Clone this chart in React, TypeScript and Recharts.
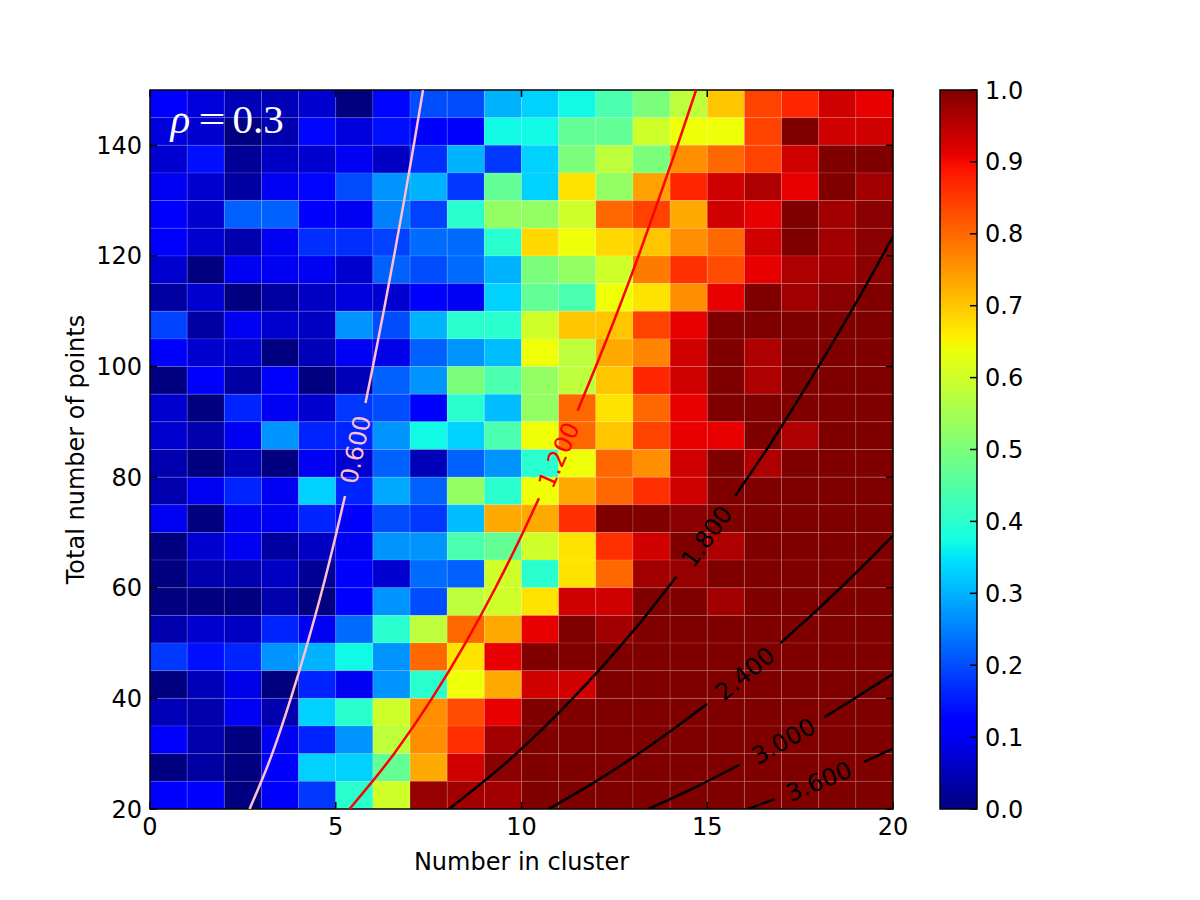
import { ComposedChart, BarChart, Bar, XAxis, YAxis, Line, ReferenceArea, ReferenceDot } from "recharts"

// column left edges (number in cluster)
const clusterSizes = [0, 1, 2, 3, 4, 5, 6, 7, 8, 9, 10, 11, 12, 13, 14, 15, 16, 17, 18, 19]

// row bottom edges (total number of points), top row first
const totals = [145, 140, 135, 130, 125, 120, 115, 110, 105, 100, 95, 90, 85, 80, 75, 70, 65, 60, 55, 50, 45, 40, 35, 30, 25, 20]

// detected fraction per cell, one row per entry of `totals`
const fractions = [
  [0.12, 0.08, 0.05, 0.05, 0.07, 0.0, 0.13, 0.2, 0.2, 0.3, 0.33, 0.37, 0.44, 0.5, 0.58, 0.7, 0.84, 0.87, 0.93, 0.91],
  [0.08, 0.07, 0.0, 0.04, 0.13, 0.08, 0.14, 0.11, 0.11, 0.37, 0.37, 0.47, 0.47, 0.6, 0.64, 0.64, 0.84, 1.0, 0.93, 0.93],
  [0.07, 0.14, 0.02, 0.06, 0.07, 0.1, 0.06, 0.17, 0.3, 0.18, 0.33, 0.5, 0.58, 0.5, 0.76, 0.8, 0.84, 0.93, 1.0, 1.0],
  [0.1, 0.07, 0.03, 0.1, 0.13, 0.2, 0.27, 0.3, 0.18, 0.47, 0.33, 0.67, 0.53, 0.74, 0.87, 0.93, 0.96, 0.91, 1.0, 0.97],
  [0.12, 0.07, 0.22, 0.22, 0.12, 0.1, 0.25, 0.19, 0.4, 0.53, 0.53, 0.6, 0.8, 0.84, 0.73, 0.93, 0.91, 1.0, 0.97, 0.99],
  [0.12, 0.07, 0.04, 0.1, 0.17, 0.17, 0.19, 0.23, 0.23, 0.4, 0.68, 0.64, 0.68, 0.7, 0.76, 0.8, 0.93, 1.0, 0.97, 0.99],
  [0.07, 0.0, 0.1, 0.1, 0.1, 0.07, 0.22, 0.2, 0.23, 0.3, 0.5, 0.53, 0.6, 0.78, 0.86, 0.83, 0.91, 0.96, 0.97, 0.99],
  [0.03, 0.07, 0.0, 0.03, 0.06, 0.08, 0.07, 0.11, 0.1, 0.33, 0.47, 0.44, 0.64, 0.67, 0.76, 0.91, 1.0, 0.97, 0.99, 1.0],
  [0.19, 0.03, 0.1, 0.07, 0.06, 0.27, 0.2, 0.3, 0.4, 0.4, 0.6, 0.7, 0.7, 0.84, 0.91, 1.0, 1.0, 1.0, 1.0, 1.0],
  [0.12, 0.07, 0.07, 0.0, 0.05, 0.1, 0.09, 0.22, 0.27, 0.31, 0.64, 0.58, 0.73, 0.77, 0.93, 1.0, 0.96, 1.0, 1.0, 1.0],
  [0.0, 0.11, 0.03, 0.12, 0.0, 0.05, 0.22, 0.27, 0.5, 0.44, 0.53, 0.58, 0.7, 0.87, 0.93, 1.0, 0.96, 1.0, 1.0, 1.0],
  [0.07, 0.0, 0.16, 0.1, 0.07, 0.18, 0.2, 0.11, 0.4, 0.31, 0.53, 0.8, 0.67, 0.8, 0.91, 1.0, 1.0, 1.0, 1.0, 1.0],
  [0.07, 0.04, 0.1, 0.27, 0.16, 0.16, 0.27, 0.37, 0.33, 0.44, 0.64, 0.8, 0.7, 0.84, 0.91, 0.91, 1.0, 0.96, 1.0, 1.0],
  [0.04, 0.0, 0.05, 0.0, 0.1, 0.07, 0.22, 0.05, 0.22, 0.27, 0.4, 0.64, 0.8, 0.76, 0.93, 1.0, 0.96, 1.0, 1.0, 1.0],
  [0.04, 0.1, 0.16, 0.1, 0.33, 0.16, 0.29, 0.22, 0.53, 0.4, 0.64, 0.73, 0.8, 0.86, 0.93, 1.0, 1.0, 1.0, 1.0, 1.0],
  [0.1, 0.0, 0.1, 0.1, 0.16, 0.11, 0.2, 0.18, 0.31, 0.73, 0.73, 0.86, 1.0, 1.0, 0.99, 1.0, 1.0, 1.0, 1.0, 1.0],
  [0.0, 0.07, 0.1, 0.03, 0.06, 0.1, 0.27, 0.27, 0.44, 0.47, 0.6, 0.67, 0.86, 0.93, 1.0, 0.96, 1.0, 1.0, 1.0, 1.0],
  [0.0, 0.04, 0.04, 0.06, 0.02, 0.11, 0.07, 0.23, 0.22, 0.6, 0.4, 0.67, 0.8, 0.97, 0.98, 1.0, 1.0, 1.0, 1.0, 1.0],
  [0.0, 0.0, 0.0, 0.04, 0.0, 0.11, 0.27, 0.2, 0.58, 0.6, 0.67, 0.93, 0.93, 1.0, 1.0, 0.97, 1.0, 1.0, 1.0, 1.0],
  [0.04, 0.07, 0.06, 0.16, 0.1, 0.23, 0.4, 0.58, 0.8, 0.73, 0.91, 1.0, 0.97, 1.0, 1.0, 1.0, 1.0, 1.0, 1.0, 1.0],
  [0.18, 0.14, 0.16, 0.27, 0.3, 0.37, 0.27, 0.8, 0.67, 0.91, 1.0, 1.0, 1.0, 1.0, 1.0, 1.0, 1.0, 1.0, 1.0, 1.0],
  [0.0, 0.05, 0.09, 0.0, 0.16, 0.1, 0.27, 0.4, 0.64, 0.73, 0.93, 0.93, 1.0, 1.0, 1.0, 1.0, 1.0, 1.0, 1.0, 1.0],
  [0.05, 0.04, 0.1, 0.04, 0.33, 0.4, 0.6, 0.76, 0.83, 0.91, 1.0, 1.0, 1.0, 1.0, 1.0, 1.0, 1.0, 1.0, 1.0, 1.0],
  [0.11, 0.04, 0.0, 0.1, 0.16, 0.27, 0.58, 0.76, 0.86, 0.97, 1.0, 1.0, 1.0, 1.0, 1.0, 1.0, 1.0, 1.0, 1.0, 1.0],
  [0.0, 0.03, 0.0, 0.12, 0.33, 0.33, 0.47, 0.73, 0.93, 0.99, 1.0, 1.0, 1.0, 1.0, 1.0, 1.0, 1.0, 1.0, 1.0, 1.0],
  [0.12, 0.12, 0.0, 0.11, 0.18, 0.4, 0.6, 0.98, 0.97, 0.97, 1.0, 1.0, 1.0, 1.0, 1.0, 1.0, 1.0, 1.0, 1.0, 1.0],
]

const xTicks = [0, 5, 10, 15, 20]
const yTicks = [20, 40, 60, 80, 100, 120, 140]
const barTicks = [0, 0.1, 0.2, 0.3, 0.4, 0.5, 0.6, 0.7, 0.8, 0.9, 1.0]

// full extent of the colour scale
const colorRange = [{ name: "fraction", lo: 0, hi: 1 }]

// contour lines; the null entry leaves room for the inline label
const contour060 = [
  { x: 2.68, n: 20 }, { x: 3.29, n: 30 }, { x: 3.79, n: 40 }, { x: 4.24, n: 50 }, { x: 4.65, n: 60 },
  { x: 5.02, n: 70 }, { x: 5.25, n: 76.6 }, { x: 5.5, n: null }, { x: 5.8, n: 93.4 }, { x: 6.0, n: 100 },
  { x: 6.29, n: 110 }, { x: 6.57, n: 120 }, { x: 6.84, n: 130 }, { x: 7.1, n: 140 }, { x: 7.35, n: 150 },
]
const contour120 = [
  { x: 5.37, n: 20 }, { x: 6.57, n: 30 }, { x: 7.59, n: 40 }, { x: 8.49, n: 50 }, { x: 9.3, n: 60 },
  { x: 10.04, n: 70 }, { x: 10.47, n: 76.2 }, { x: 11, n: null }, { x: 11.51, n: 92 }, { x: 12.0, n: 100 },
  { x: 12.59, n: 110 }, { x: 13.15, n: 120 }, { x: 13.68, n: 130 }, { x: 14.2, n: 140 }, { x: 14.7, n: 150 },
]
const contour180 = [
  { x: 8.05, n: 20 }, { x: 9.86, n: 30 }, { x: 11.38, n: 40 }, { x: 12.73, n: 50 }, { x: 13.35, n: 55 },
  { x: 14.17, n: 62 }, { x: 15, n: null }, { x: 15.75, n: 76.6 }, { x: 16.6, n: 85 }, { x: 17.54, n: 95 },
  { x: 18.44, n: 105 }, { x: 19.3, n: 115 }, { x: 20.0, n: 123.5 },
]
const contour240 = [
  { x: 10.73, n: 20 }, { x: 12.0, n: 25 }, { x: 13.15, n: 30 }, { x: 14.2, n: 35 }, { x: 14.99, n: 39 },
  { x: 16, n: null }, { x: 16.97, n: 50 }, { x: 17.8, n: 55 }, { x: 18.59, n: 60 }, { x: 19.35, n: 65 },
  { x: 20.0, n: 69.4 },
]
const contour300 = [
  { x: 13.42, n: 20 }, { x: 14.7, n: 24 }, { x: 15.87, n: 28 }, { x: 17, n: null },
  { x: 18.15, n: 36.6 }, { x: 18.97, n: 40 }, { x: 20.0, n: 44.4 },
]
const contour360 = [
  { x: 16.1, n: 20 }, { x: 16.81, n: 21.8 }, { x: 18, n: null }, { x: 19.22, n: 28.5 }, { x: 20.0, n: 30.9 },
]

const contourLevels = [0.6, 1.2, 1.8, 2.4, 3.0, 3.6]
const contourPoints = [contour060, contour120, contour180, contour240, contour300, contour360]
// where each level's label sits (cluster size, total points)
const labelX = [5.53, 11.0, 14.98, 16.01, 17.05, 18.0]
const labelN = [85, 84, 69.3, 44.5, 32.3, 25]

const contourColors = ["#ffc0cb", "#ff0000", "#000000", "#000000", "#000000", "#000000"]
const labelAngles = [-77.7, -66.3, -54, -39.6, -29.4, -22.5]

// matplotlib "jet" segment data
const jetR: [number, number][] = [[0, 0], [0.35, 0], [0.66, 1], [0.89, 1], [1, 0.5]]
const jetG: [number, number][] = [[0, 0], [0.125, 0], [0.375, 1], [0.64, 1], [0.91, 0], [1, 0]]
const jetB: [number, number][] = [[0, 0.5], [0.11, 1], [0.34, 1], [0.65, 0], [1, 0]]
const jetBreaks = [0, 0.11, 0.125, 0.34, 0.35, 0.375, 0.64, 0.65, 0.66, 0.89, 0.91, 1]

function channel(pts: [number, number][], v: number) {
  for (let i = 1; i < pts.length; i++) {
    const [x0, y0] = pts[i - 1]
    const [x1, y1] = pts[i]
    if (v <= x1) return y0 + ((v - x0) / (x1 - x0)) * (y1 - y0)
  }
  return pts[pts.length - 1][1]
}

function jet(v: number) {
  const c = Math.max(0, Math.min(1, v))
  const r = Math.round(255 * channel(jetR, c))
  const g = Math.round(255 * channel(jetG, c))
  const b = Math.round(255 * channel(jetB, c))
  return `rgb(${r},${g},${b})`
}

const FONT = "DejaVu Sans"
const tickStyle = { fontFamily: FONT, fontSize: 24, fill: "#000" }
const TICK_LEN = 7

// black box round the plot with inward tick marks on all four sides
function PlotFrame(props: any) {
  const { x, y, width, height } = props
  const px = (v: number) => x + (width * v) / 20
  const py = (v: number) => y + height - (height * (v - 20)) / 130
  return (
    <g>
      <rect x={x} y={y} width={width} height={height} fill="none" stroke="#000" strokeWidth={1.5} />
      {xTicks.map((t) => (
        <g key={`xt-${t}`} stroke="#000" strokeWidth={1.5}>
          <line x1={px(t)} x2={px(t)} y1={y + height} y2={y + height - TICK_LEN} />
          <line x1={px(t)} x2={px(t)} y1={y} y2={y + TICK_LEN} />
        </g>
      ))}
      {yTicks.map((t) => (
        <g key={`yt-${t}`} stroke="#000" strokeWidth={1.5}>
          <line x1={x} x2={x + TICK_LEN} y1={py(t)} y2={py(t)} />
          <line x1={x + width} x2={x + width - TICK_LEN} y1={py(t)} y2={py(t)} />
        </g>
      ))}
    </g>
  )
}

function RhoLabel(props: any) {
  const { viewBox } = props
  return (
    <text x={viewBox.x} y={viewBox.y} fill="#ffffff" fontFamily="Liberation Serif" fontSize={41}>
      <tspan fontStyle="italic">ρ</tspan>
      <tspan x={viewBox.x + 28} textLength={27} lengthAdjust="spacingAndGlyphs">=</tspan>
      <tspan x={viewBox.x + 62}>0.3</tspan>
    </text>
  )
}

function HeatMap() {
  return (
    <ComposedChart width={930} height={900} margin={{ top: 90, right: 37, bottom: 21, left: 80 }}>
      <XAxis
        dataKey="x"
        type="number"
        domain={[0, 20]}
        ticks={xTicks}
        interval={0}
        allowDataOverflow
        height={70}
        tickSize={0}
        tickMargin={9}
        axisLine={false}
        tickLine={false}
        tick={tickStyle}
      />
      <YAxis
        type="number"
        domain={[20, 150]}
        ticks={yTicks}
        interval={0}
        allowDataOverflow
        width={70}
        tickSize={0}
        tickMargin={8}
        axisLine={false}
        tickLine={false}
        tick={tickStyle}
      />

      {totals.map((n, r) =>
        clusterSizes.map((c, i) => (
          <ReferenceArea
            key={`cell-${r}-${i}`}
            x1={c}
            x2={c + 1}
            y1={n}
            y2={n + 5}
            fill={jet(fractions[r][i])}
            fillOpacity={1}
            stroke="#ffffff"
            strokeOpacity={0.12}
            strokeWidth={1}
          />
        ))
      )}

      {contourLevels.map((level, i) => (
        <Line
          key={`level-${level}`}
          data={contourPoints[i]}
          dataKey="n"
          type="monotone"
          stroke={contourColors[i]}
          strokeWidth={2.5}
          dot={false}
          activeDot={false}
          connectNulls={false}
          isAnimationActive={false}
        />
      ))}

      <ReferenceArea x1={0} x2={20} y1={20} y2={150} shape={PlotFrame} />

      {contourLevels.map((level, i) => (
        <ReferenceDot
          key={`label-${level}`}
          x={labelX[i]}
          y={labelN[i]}
          r={0}
          fill="none"
          stroke="none"
          label={{
            value: level.toFixed(3),
            position: "center",
            angle: labelAngles[i],
            fill: contourColors[i],
            fontSize: 24,
            fontFamily: FONT,
          }}
        />
      ))}

      <ReferenceDot x={0.55} y={142.2} r={0} fill="none" stroke="none" label={{ content: RhoLabel }} />

      <text x={521.5} y={870} textAnchor="middle" fontFamily={FONT} fontSize={24} fill="#000">
        Number in cluster
      </text>
      <text
        x={84}
        y={449.5}
        transform="rotate(-90, 84, 449.5)"
        textAnchor="middle"
        fontFamily={FONT}
        fontSize={24}
        fill="#000"
      >
        Total number of points
      </text>
    </ComposedChart>
  )
}

// gradient bar with inward ticks on its right edge
function ScaleBar(props: any) {
  const { x, y, width, height } = props
  return (
    <g>
      <rect x={x} y={y} width={width} height={height} fill="url(#jetScale)" stroke="#000" strokeWidth={1.5} />
      {barTicks.map((t) => (
        <line
          key={t}
          x1={x + width - TICK_LEN}
          x2={x + width}
          y1={y + height * (1 - t)}
          y2={y + height * (1 - t)}
          stroke="#000"
          strokeWidth={1.5}
        />
      ))}
    </g>
  )
}

function ColorBar() {
  return (
    <BarChart
      width={200}
      height={900}
      data={colorRange}
      barCategoryGap={0}
      margin={{ top: 90, right: 63, bottom: 91, left: 40 }}
    >
      <defs>
        <linearGradient id="jetScale" x1="0" y1="1" x2="0" y2="0">
          {jetBreaks.map((v) => (
            <stop key={v} offset={v} stopColor={jet(v)} />
          ))}
        </linearGradient>
      </defs>
      <XAxis dataKey="name" hide />
      <YAxis
        orientation="right"
        type="number"
        domain={[0, 1]}
        ticks={barTicks}
        interval={0}
        width={60}
        tickSize={0}
        tickMargin={8}
        axisLine={false}
        tickLine={false}
        tick={tickStyle}
        tickFormatter={(v: number) => v.toFixed(1)}
      />
      <Bar dataKey="hi" shape={ScaleBar} isAnimationActive={false} />
    </BarChart>
  )
}

export default function App() {
  return (
    <div style={{ position: "absolute", left: 0, top: 0, width: 1200, height: 900, background: "#fff" }}>
      <div style={{ position: "absolute", left: 0, top: 0 }}>
        <HeatMap />
      </div>
      <div style={{ position: "absolute", left: 900, top: 0 }}>
        <ColorBar />
      </div>
    </div>
  )
}
